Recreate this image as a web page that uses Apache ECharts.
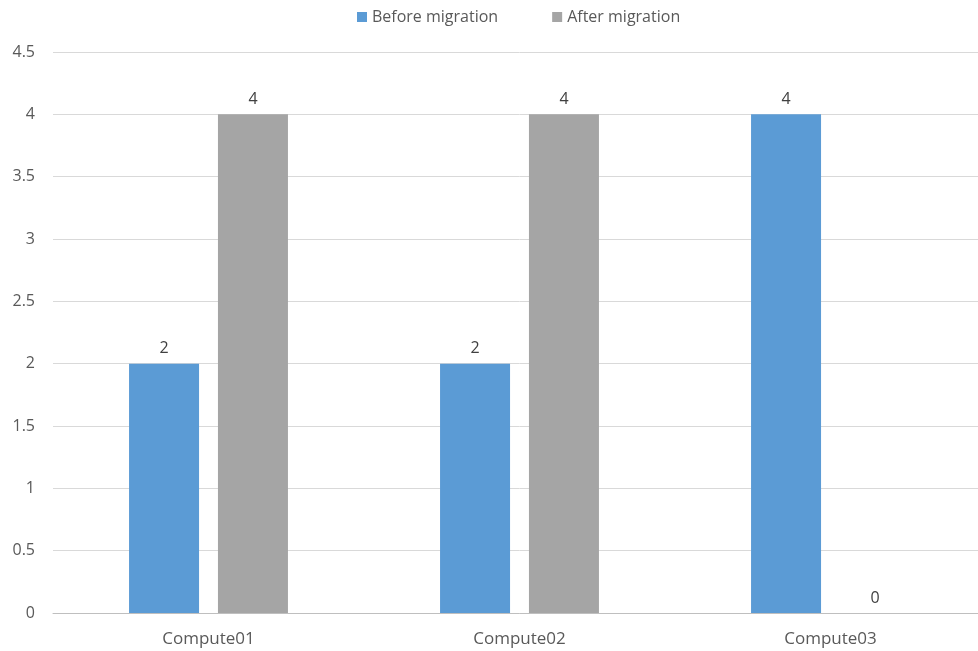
<!DOCTYPE html>
<html>
<head>
<meta charset="utf-8">
<script src="https://cdn.jsdelivr.net/npm/echarts@6/dist/echarts.min.js"></script>
<style>
html,body{margin:0;padding:0;background:#fff;overflow:hidden;}
#chart{width:986px;height:651px;}
</style>
</head>
<body>
<div id="chart"></div>
<script>
// Compute nodes and instance counts per node
const categories = ['Compute01', 'Compute02', 'Compute03'];
const beforeMigration = [2, 2, 4];
const afterMigration = [4, 4, 0];
const yTicks = { min: 0, max: 4.5, interval: 0.5 };

const textColor = '#595959';
const fontFamily = '"Open Sans", "Liberation Sans", sans-serif';

const chart = echarts.init(document.getElementById('chart'));

const labelStyle = {
  show: true,
  position: 'top',
  distance: 7,
  color: '#404040',
  fontSize: 16,
  fontFamily: fontFamily
};

chart.setOption({
  backgroundColor: '#ffffff',
  animation: false,
  legend: {
    top: 4,
    left: 352,
    itemWidth: 10,
    itemHeight: 10,
    itemGap: 54,
    icon: 'rect',
    textStyle: { color: textColor, fontSize: 16, fontFamily: fontFamily }
  },
  grid: { left: 53, top: 52, right: 0, height: 561 },
  xAxis: {
    type: 'category',
    data: categories,
    axisTick: { show: false },
    axisLine: { lineStyle: { color: '#BFBFBF', width: 1 } },
    axisLabel: { color: textColor, fontSize: 17, fontFamily: fontFamily, margin: 18 }
  },
  yAxis: {
    type: 'value',
    min: yTicks.min,
    max: yTicks.max,
    interval: yTicks.interval,
    axisLine: { show: false },
    axisTick: { show: false },
    splitLine: { lineStyle: { color: '#D9D9D9', width: 1 } },
    axisLabel: { color: textColor, fontSize: 16, fontFamily: fontFamily, margin: 18 }
  },
  series: [
    {
      name: 'Before migration',
      type: 'bar',
      data: beforeMigration,
      barWidth: 70,
      barGap: '27%',
      itemStyle: { color: '#5B9BD5' },
      label: labelStyle
    },
    {
      name: 'After migration',
      type: 'bar',
      data: afterMigration,
      barWidth: 70,
      barGap: '27%',
      itemStyle: { color: '#A5A5A5' },
      label: labelStyle
    }
  ]
});
</script>
</body>
</html>
